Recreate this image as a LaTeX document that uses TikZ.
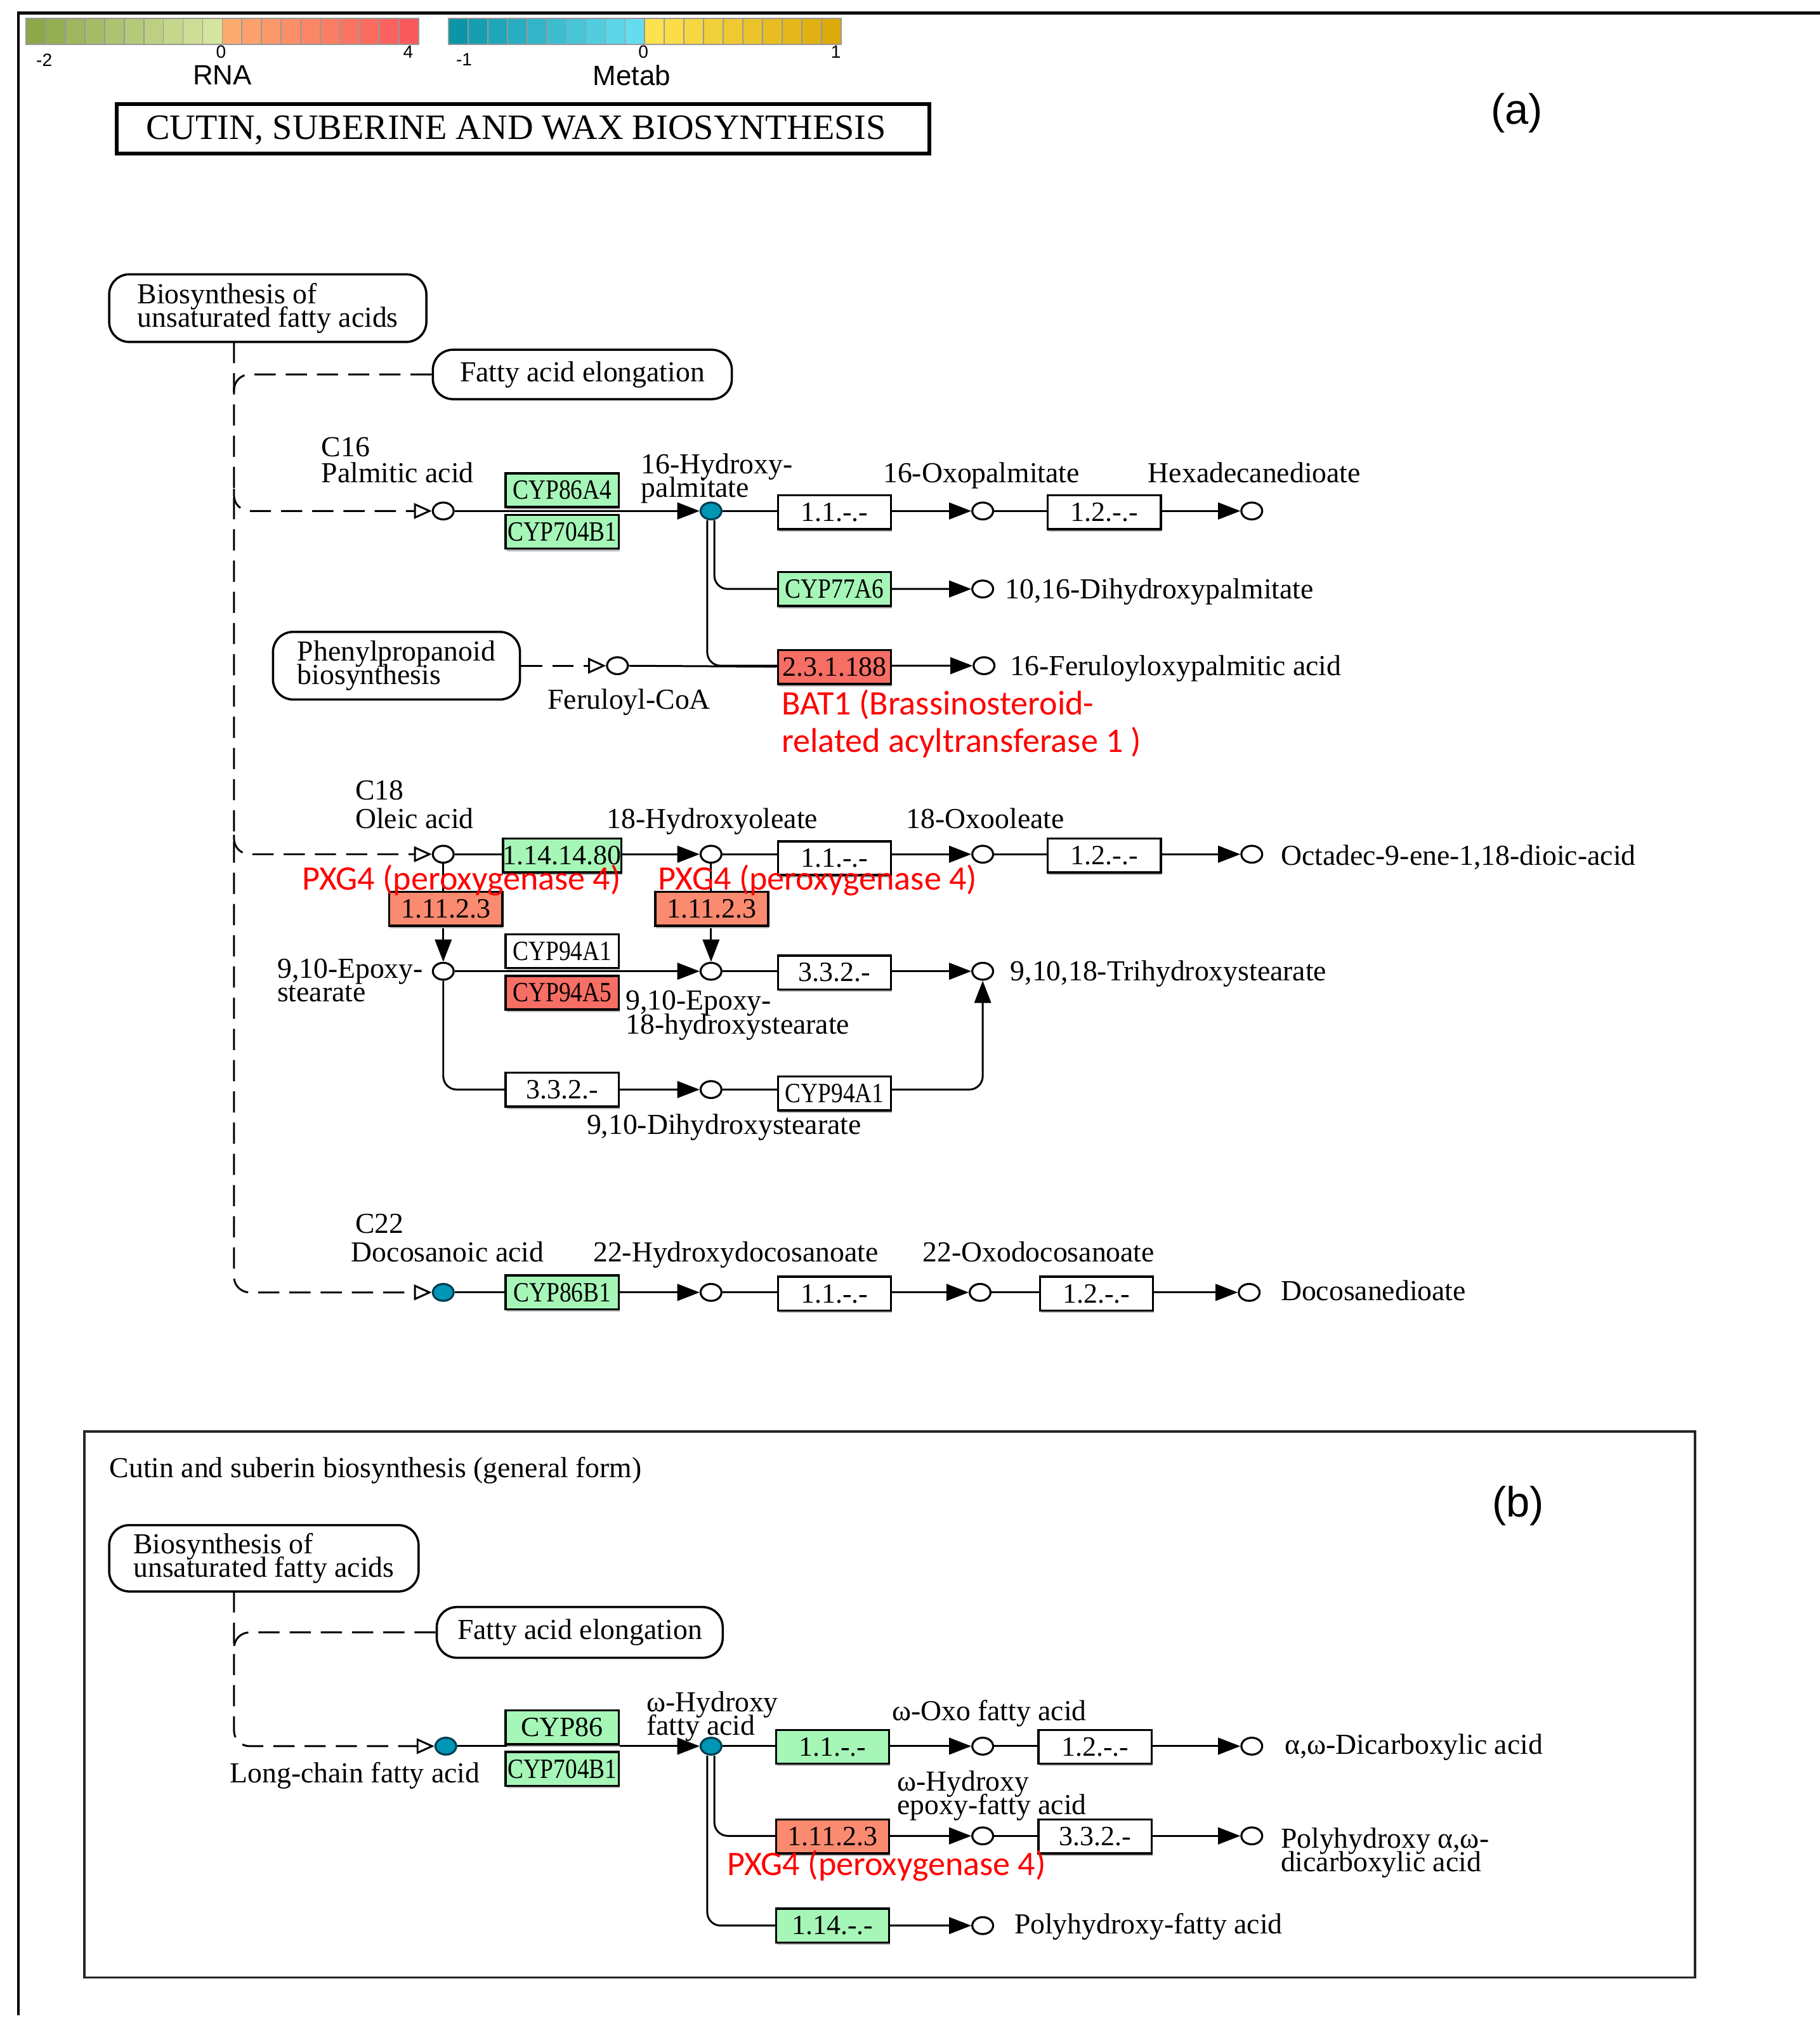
\documentclass[tikz,border=0pt]{standalone}
\usepackage{fontspec}
\setmainfont{Liberation Serif}
\newfontfamily\keggc[FakeStretch=0.85]{Liberation Serif}
\newfontfamily\redfont{Carlito}
\newfontfamily\arialfont{Liberation Sans}
\usetikzlibrary{arrows.meta,shapes.geometric,shadows}
\newlength\kgu
\setlength\kgu{0.2049mm}
\newcommand\kgtight{\lineskiplimit=-20pt\relax}
\definecolor{kgreen}{RGB}{166,246,184}
\definecolor{kred}{RGB}{246,110,100}
\definecolor{ksalmon}{RGB}{250,138,112}
\definecolor{kcyan}{RGB}{0,150,182}
\definecolor{kcyandk}{RGB}{0,60,80}
\definecolor{gD}{RGB}{141,168,73}
\definecolor{gL}{RGB}{213,228,158}
\definecolor{oL}{RGB}{252,170,110}
\definecolor{oD}{RGB}{249,88,92}
\definecolor{cD}{RGB}{10,149,168}
\definecolor{cL}{RGB}{102,221,238}
\definecolor{yL}{RGB}{253,226,80}
\definecolor{yD}{RGB}{220,170,10}
\definecolor{pxred}{RGB}{255,0,0}
\pgfdeclarelayer{bg}
\pgfsetlayers{bg,main}
\tikzset{
  lbl/.style={inner sep=0pt, font=\fontsize{13}{10.6}\selectfont\kgtight},
  lw/.style={lbl, anchor=west, text height=9pt, text depth=2.8pt},
  lc/.style={lbl, text height=9pt, text depth=2.8pt},
  lwa/.style={lbl, anchor=west, align=left},
  enz/.style={draw, line width=1pt, fill=white, minimum width=87\kgu, minimum height=26\kgu,
    inner sep=0pt, font=\fontsize{12.5}{12.5}\selectfont,
    drop shadow={shadow xshift=0.4pt, shadow yshift=-1.1pt, fill=gray!55, opacity=1}},
  cond/.style={font=\keggc\fontsize{12.5}{12.5}\selectfont},
  enzg/.style={enz, fill=kgreen},
  enzr/.style={enz, fill=kred},
  enzs/.style={enz, fill=ksalmon},
  cpd/.style={ellipse, draw, line width=0.9pt, fill=white, minimum width=16\kgu,
    minimum height=13\kgu, inner sep=0pt},
  cpdc/.style={cpd, fill=kcyan, draw=kcyandk},
  rx/.style={line width=0.85pt, -{Triangle[length=10pt,width=7.5pt]}},
  ln/.style={line width=0.85pt},
  dsh/.style={line width=0.85pt, dash pattern=on 9.5pt off 4.5pt},
  dsha/.style={dsh, -{Triangle[open,length=8pt,width=7pt]}},
  mapb/.style={draw, line width=1pt, rounded corners=9pt, inner sep=0pt,
    font=\fontsize{13}{10.6}\selectfont\kgtight, align=left},
  redt/.style={inner sep=0pt, text=pxred, font=\redfont\fontsize{15.4}{15.4}\selectfont},
  barlab/.style={inner sep=0pt, font=\arialfont\fontsize{8}{8}\selectfont},
  barname/.style={inner sep=0pt, font=\arialfont\fontsize{12.5}{12.5}\selectfont},
  sub/.style={inner sep=0pt, font=\arialfont\fontsize{19}{19}\selectfont},
}
\begin{document}
\begin{tikzpicture}[x=0.2049mm, y=-0.2049mm]
\useasboundingbox (0,0) rectangle (1400,1569);
% outer frame
\draw[line width=1.2pt] (14,1550) -- (14,10) -- (1400,10);
% colour bars
\foreach \i in {0,...,9}{
  \pgfmathtruncatemacro\p{100-\i*100/9}
  \pgfmathtruncatemacro\q{\i*100/9}
  \draw[fill=gD!\p!gL, draw=gray!80, line width=0.5pt] ({20+\i*15.1},14) rectangle ++(15.1,20);
  \draw[fill=oD!\q!oL, draw=gray!80, line width=0.5pt] ({171+\i*15.1},14) rectangle ++(15.1,20);
  \draw[fill=cD!\p!cL, draw=gray!80, line width=0.5pt] ({345+\i*15.1},14) rectangle ++(15.1,20);
  \draw[fill=yD!\q!yL, draw=gray!80, line width=0.5pt] ({496+\i*15.1},14) rectangle ++(15.1,20);
}
\node[barlab] (bm2) at (34,46) {-2};
\node[barlab] (b0r) at (170,40) {0};
\node[barlab] (b4) at (314,40) {4};
\node[barname] (rna) at (171,58) {RNA};
\node[barlab] (bm1) at (357,46) {-1};
\node[barlab] (b0m) at (495,40) {0};
\node[barlab] (b1) at (643,40) {1};
\node[barname] (metab) at (486,58) {Metab};
% title
\node[draw, line width=1.7pt, minimum width=625\kgu, minimum height=38\kgu, inner sep=0pt] (title) at (402.5,99) {};
\node[inner sep=0pt, font=\fontsize{16}{16}\selectfont] (titletext) at (397,100) {CUTIN, SUBERINE AND WAX BIOSYNTHESIS};
\node[sub] (suba) at (1167,87) {(a)};

% ================= part (a) =================
\node[mapb, minimum width=244\kgu, minimum height=52\kgu] (bios1) at (206,237) {Biosynthesis of\\unsaturated fatty acids};
\node[mapb, minimum width=230\kgu, minimum height=38\kgu] (elong1) at (448,288) {Fatty acid elongation};
\node[mapb, minimum width=190\kgu, minimum height=52\kgu] (phen) at (305,512) {Phenylpropanoid\\biosynthesis};
\coordinate (va) at (180,263);
\coordinate (vel) at (180,305);
\coordinate (vb16) at (180,376);
\coordinate (vb18) at (180,642);

% C16
\node[cpd] (pal) at (341,393) {};
\node[cpdc] (hp) at (547,393) {};
\node[cpd] (oxp) at (756,393) {};
\node[cpd] (hex) at (963,393) {};
\node[cpd] (dhp) at (756,453) {};
\node[cpd] (fer) at (475,512) {};
\node[cpd] (fpa) at (757,512) {};
\node[enzg, cond] (e86a4) at (432.5,377) {CYP86A4};
\node[enzg, cond] (e704a) at (432.5,409) {CYP704B1};
\node[enz] (e11a) at (642,394) {1.1.-.-};
\node[enz] (e12a) at (849.5,394) {1.2.-.-};
\node[enzg, cond] (e77) at (642,453) {CYP77A6};
\node[enzr] (ebat) at (642,513) {2.3.1.188};
\node[lw] (lc16) at (247,346) {C16};
\node[lw] (lpal) at (247,366) {Palmitic acid};
\node[lwa] (lhp) at (493,368) {16-Hydroxy-\\palmitate};
\node[lc] (loxp) at (755,366) {16-Oxopalmitate};
\node[lc] (lhex) at (965,366) {Hexadecanedioate};
\node[lw] (ldhp) at (773,455) {10,16-Dihydroxypalmitate};
\node[lw] (lfpa) at (777,514) {16-Feruloyloxypalmitic acid};
\node[lc] (lfer) at (484,540) {Feruloyl-CoA};
\node[redt, anchor=west] (rbat1) at (601,542) {BAT1 (Brassinosteroid-};
\node[redt, anchor=west] (rbat2) at (601,571) {related acyltransferase 1 )};

% C18
\node[cpd] (ole) at (341,657) {};
\node[cpd] (hyo) at (547,657) {};
\node[cpd] (oxo) at (756,657) {};
\node[cpd] (odd) at (963,657) {};
\node[cpd] (eps) at (341,747) {};
\node[cpd] (ehs) at (547,747) {};
\node[cpd] (ths) at (756,747) {};
\node[cpd] (dhs) at (547,838) {};
\node[enzg] (e1414) at (432.5,658) {1.14.14.80};
\node[enz] (e11b) at (642,660) {1.1.-.-};
\node[enz] (e12b) at (849.5,658) {1.2.-.-};
\node[enzs] (e1112a) at (343,699) {1.11.2.3};
\node[enzs] (e1112b) at (547.5,699) {1.11.2.3};
\node[enz, cond] (e94a1) at (432.5,731.5) {CYP94A1};
\node[enzr, cond] (e94a5) at (432.5,763.5) {CYP94A5};
\node[enz] (e332a) at (642,748) {3.3.2.-};
\node[enz] (e332b) at (432.5,838) {3.3.2.-};
\node[enz, cond] (e94a1b) at (642,841) {CYP94A1};
\node[lw] (lc18) at (273,610) {C18};
\node[lw] (lole) at (273,632) {Oleic acid};
\node[lc] (lhyo) at (548,632) {18-Hydroxyoleate};
\node[lc] (loxo) at (758,632) {18-Oxooleate};
\node[lw] (lodd) at (985,660) {Octadec-9-ene-1,18-dioic-acid};
\node[lwa] (leps) at (213,754) {9,10-Epoxy-\\stearate};
\node[lwa] (lehs) at (481,781) {9,10-Epoxy-\\18-hydroxystearate};
\node[lw] (lths) at (777,749) {9,10,18-Trihydroxystearate};
\node[lc] (ldhs) at (557,867) {9,10-Dihydroxystearate};
\node[redt] (rpx1) at (355,677) {PXG4 (peroxygenase 4)};
\node[redt] (rpx2) at (629,677) {PXG4 (peroxygenase 4)};

% C22
\node[cpdc] (doc) at (341,994) {};
\node[cpd] (hdd) at (547,994) {};
\node[cpd] (odc) at (754,994) {};
\node[cpd] (dde) at (961,994) {};
\node[enzg, cond] (e86b1) at (432.5,994) {CYP86B1};
\node[enz] (e11c) at (642,995) {1.1.-.-};
\node[enz] (e12c) at (843.5,995) {1.2.-.-};
\node[lw] (lc22) at (273,943) {C22};
\node[lw] (ldoc) at (270,965) {Docosanoic acid};
\node[lc] (lhdd) at (566,965) {22-Hydroxydocosanoate};
\node[lc] (lodc) at (799,965) {22-Oxodocosanoate};
\node[lw] (ldde) at (985,995) {Docosanedioate};

% ================= part (b) =================
\node[lw] (lgen) at (84,1131) {Cutin and suberin biosynthesis (general form)};
\node[sub] (subb) at (1168,1158) {(b)};
\node[mapb, minimum width=238\kgu, minimum height=51\kgu] (bios2) at (203,1198.5) {Biosynthesis of\\unsaturated fatty acids};
\node[mapb, minimum width=220\kgu, minimum height=39\kgu] (elong2) at (446,1255.5) {Fatty acid elongation};
\coordinate (vc) at (180,1224);
\coordinate (vel2) at (180,1270);
\node[cpdc] (lcf) at (343,1343) {};
\node[cpdc] (ohf) at (547,1343) {};
\node[cpd] (ofa) at (756,1343) {};
\node[cpd] (dca) at (963,1343) {};
\node[cpd] (ohe) at (756,1412) {};
\node[cpd] (pdc) at (963,1412) {};
\node[cpd] (phf) at (756,1481) {};
\node[enzg] (e86) at (432.5,1328.5) {CYP86};
\node[enzg, cond] (e704b) at (432.5,1360.5) {CYP704B1};
\node[enzg] (e11d) at (640.5,1343.5) {1.1.-.-};
\node[enz] (e12d) at (842.5,1343.5) {1.2.-.-};
\node[enzs] (e1112c) at (640.5,1412.5) {1.11.2.3};
\node[enz] (e332c) at (842.5,1412.5) {3.3.2.-};
\node[enzg] (e114) at (640.5,1481) {1.14.-.-};
\node[lc] (llcf) at (273,1366) {Long-chain fatty acid};
\node[lwa] (lohf) at (497,1320) {ω-Hydroxy\\fatty acid};
\node[lc] (lofa) at (761,1318) {ω-Oxo fatty acid};
\node[lw] (ldca) at (988,1344) {α,ω-Dicarboxylic acid};
\node[lwa] (lohe) at (690,1381) {ω-Hydroxy\\epoxy-fatty acid};
\node[lwa] (lpdc) at (985,1425) {Polyhydroxy α,ω-\\dicarboxylic acid};
\node[lw] (lphf) at (780,1482) {Polyhydroxy-fatty acid};
\node[redt] (rpx3) at (682,1435) {PXG4 (peroxygenase 4)};

% ================= connectors =================
\begin{pgfonlayer}{bg}
\draw[dsha, rounded corners=7pt] (va) |- (doc.west);
\draw[dsha, rounded corners=7pt] (vb16) |- (pal.west);
\draw[dsha, rounded corners=7pt] (vb18) |- (ole.west);
\draw[dsh, rounded corners=7pt] (elong1.west) -| (vel);
\draw[dsha] (phen.east) -- (fer.west);
\draw[rx] (pal) -- (hp);
\draw[rx] (hp) -- (oxp);
\draw[rx] (oxp) -- (hex);
\draw[rx, rounded corners=6pt] ([xshift=1.5pt]hp.south) |- (dhp.west);
\draw[rx, rounded corners=6pt] ([xshift=-1.7pt]hp.south) |- (fpa.west);
\draw[ln] (fer) -- (ebat);
\draw[rx] (ole) -- (hyo);
\draw[rx] (hyo) -- (oxo);
\draw[rx] (oxo) -- (odd);
\draw[rx] (ole) -- (eps);
\draw[rx] (hyo) -- (ehs);
\draw[rx] (eps) -- (ehs);
\draw[rx] (ehs) -- (ths);
\draw[rx, rounded corners=6pt] (eps.south) |- (dhs.west);
\draw[rx, rounded corners=6pt] (dhs.east) -| (ths.south);
\draw[rx] (doc) -- (hdd);
\draw[rx] (hdd) -- (odc);
\draw[rx] (odc) -- (dde);
% part b
\draw[dsha, rounded corners=7pt] (vc) |- (lcf.west);
\draw[dsh, rounded corners=7pt] (elong2.west) -| (vel2);
\draw[rx] (lcf) -- (ohf);
\draw[rx] (ohf) -- (ofa);
\draw[rx] (ofa) -- (dca);
\draw[rx, rounded corners=6pt] ([xshift=1.5pt]ohf.south) |- (ohe.west);
\draw[rx] (ohe) -- (pdc);
\draw[rx, rounded corners=6pt] ([xshift=-1.7pt]ohf.south) |- (phf.west);
\end{pgfonlayer}
% frame of part (b)
\draw[line width=1pt, draw=black!85] (65,1101) rectangle (1304,1521);
\end{tikzpicture}
\end{document}
